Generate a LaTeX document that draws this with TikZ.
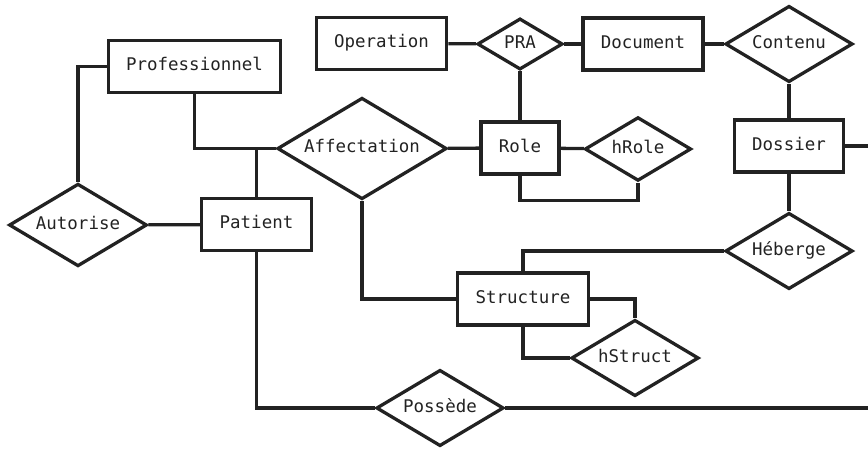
\documentclass[tikz,border=0pt]{standalone}
\usepackage{fontspec}
\setmonofont{DejaVu Sans Mono}
\usepackage{tikz}
\usetikzlibrary{shapes.geometric}
\usetikzlibrary{positioning}
\definecolor{erline}{HTML}{222222}

\begin{document}
\begin{tikzpicture}[
  x=0.03cm, y=-0.03cm,
  line width=2.8pt, color=erline,
  every node/.style={font=\ttfamily\fontsize{14.9}{17}\selectfont, text height=11.1pt, text depth=3.7pt},
  entity/.style={rectangle, draw, minimum height=1.56cm, inner xsep=0.54cm, inner ysep=0pt},
  relation/.style={diamond, draw, aspect=1.67, inner sep=0.14cm},
]
  \useasboundingbox (0,0) rectangle (868,450);

  % Entities
  \node[entity] (prof)    at (194.5, 66.5) {Professionnel};
  \node[entity] (oper)    at (381.5, 43.5) {Operation};
  \node[entity] (doc)     at (643, 44)     {Document};
  \node[entity] (role)    at (520, 148)    {Role};
  \node[entity] (dossier) at (789, 146)    {Dossier};
  \node[entity] (patient) at (256.5, 224.5){Patient};
  \node[entity] (struct)  at (523, 299)    {Structure};

  % Relations
  \node[relation] (pra)      at (520, 44)    {PRA};
  \node[relation] (contenu)  at (789, 44)    {Contenu};
  \node[relation] (affect)   at (362, 148.5) {Affectation};
  \node[relation] (hrole)    at (638, 149)   {hRole};
  \node[relation] (autorise) at (78, 225)    {Autorise};
  \node[relation] (heberge)  at (789, 251)   {Héberge};
  \node[relation] (hstruct)  at (635, 358)   {hStruct};
  \node[relation] (possede)  at (440, 408)   {Possède};

  \coordinate (dossierR) at (868, 146);
  \coordinate (possedeR) at (868, 408);

  % Links
  \draw (oper) -- (pra);
  \draw (pra) -- (doc);
  \draw (doc) -- (contenu);
  \draw (pra) -- (role);
  \draw (contenu) -- (dossier);
  \draw (dossier) -- (heberge);
  \draw (dossier) -- (dossierR);
  \draw (role) -- (hrole);
  \draw (role.south) -- ++(0,25) -| (hrole.south);
  \draw (affect) -- (role);
  \draw (prof.south) |- (affect.west);
  \draw (patient.north) -- (patient.north |- affect.west);
  \draw (autorise.north) |- (prof.west);
  \draw (autorise) -- (patient);
  \draw (affect.south) |- (struct.west);
  \draw (heberge.west) -| (struct.north);
  \draw (struct.east) -| (hstruct.north);
  \draw (struct.south) |- (hstruct.west);
  \draw (patient.south) |- (possede.west);
  \draw (possede) -- (possedeR);

\end{tikzpicture}
\end{document}
